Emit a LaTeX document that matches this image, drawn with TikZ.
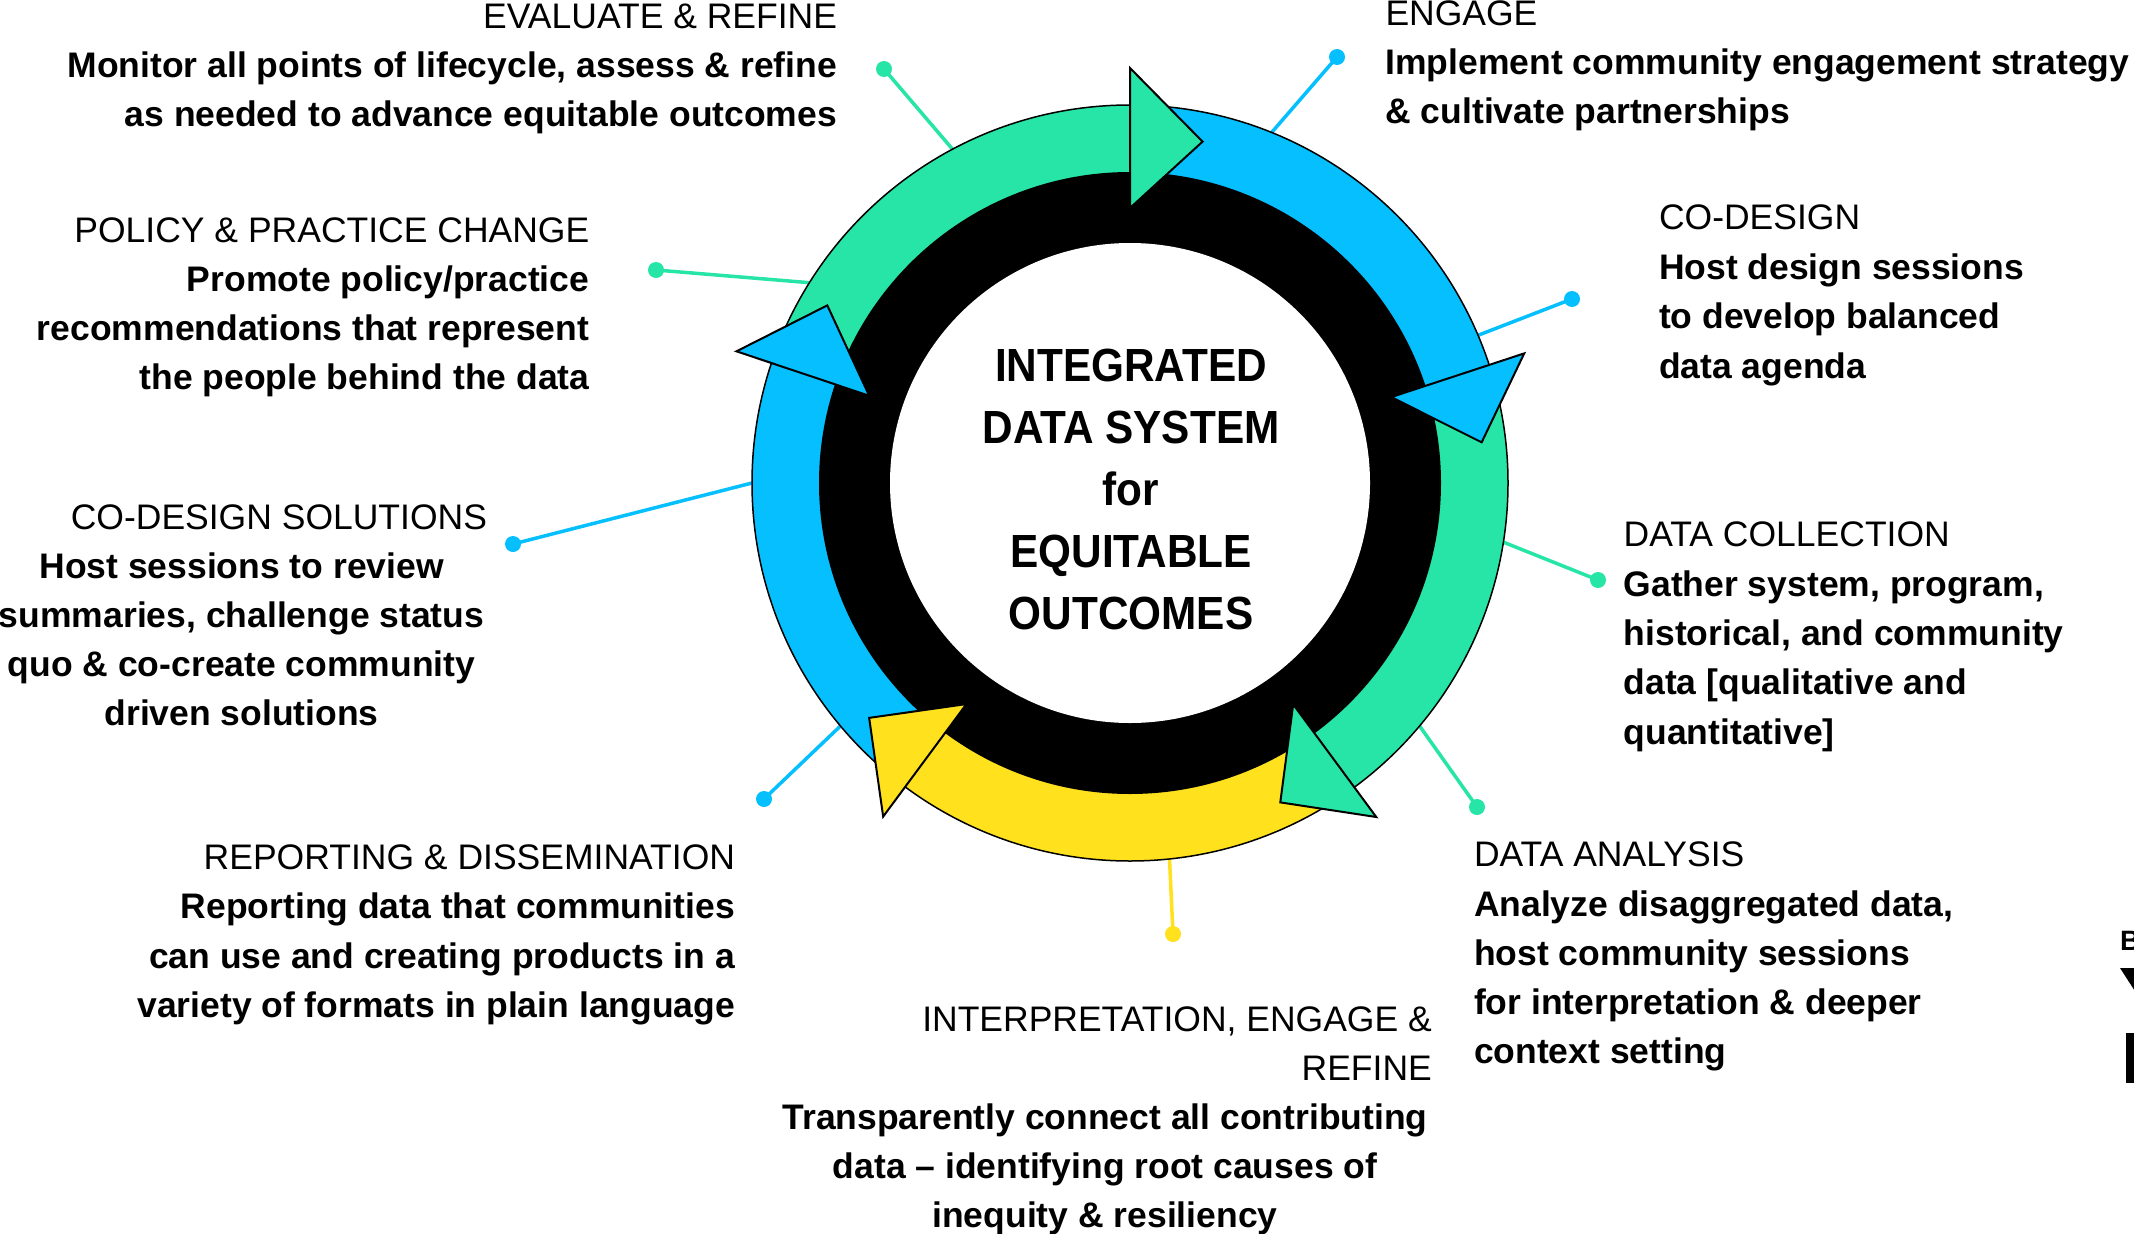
\documentclass[tikz,border=0pt]{standalone}
\usepackage{fontspec}
\setmainfont{Liberation Sans}
\newfontfamily\ctrfont[FakeStretch=0.91]{Liberation Sans}
\usetikzlibrary{calc}
\definecolor{cgreen}{HTML}{26E5A6}
\definecolor{cblue}{HTML}{05BFFF}
\definecolor{cyellow}{HTML}{FFE11E}
\newcommand\ringband[3]{\fill[#1] ($(C)+(#2:378)$) arc[start angle=#2, end angle=#3, radius=378] -- ($(C)+(#3:300)$) arc[start angle=#3, end angle=#2, radius=300] -- cycle;}
\newcommand\ringhead[4]{\filldraw[fill=#1, draw=black, line width=2, line join=miter] ($(C)+(#2:275)$) -- ($(C)+(#2:415)$) -- ($(C)+(#3:#4)$) -- cycle;}
\begin{document}
\begin{tikzpicture}[x=1pt,y=1pt,
  ttl/.style={font=\fontsize{35.5}{49}\selectfont, inner sep=0, outer sep=0},
  bdy/.style={font=\fontsize{35.5}{49}\selectfont\bfseries, inner sep=0, outer sep=0},
  ctr/.style={font=\fontsize{46.5}{62}\selectfont\ctrfont\bfseries, inner sep=0, outer sep=0, anchor=base},
  dot/.style={circle, minimum size=16, inner sep=0, outer sep=0},
  conn/.style={line width=3.5}]
\useasboundingbox (0,0) rectangle (2134,-1234);
\fill[white] (0,0) rectangle (2134,-1234);
\coordinate (C) at (1130,-483);
\node[circle, minimum size=756, inner sep=0, outer sep=0] (ring) at (C) {};

% connectors with dots
\node[dot, fill=cgreen] (d1) at (884,-69) {};
\draw[conn, cgreen] (d1.center) -- (ring.118.6);
\node[dot, fill=cblue] (d2) at (1337,-57) {};
\draw[conn, cblue] (d2.center) -- (ring.68.3);
\node[dot, fill=cblue] (d3) at (1572,-299) {};
\draw[conn, cblue] (d3.center) -- (ring.23.5);
\node[dot, fill=cgreen] (d4) at (1598,-580) {};
\draw[conn, cgreen] (d4.center) -- (ring.-9.7);
\node[dot, fill=cgreen] (d5) at (1477,-807) {};
\draw[conn, cgreen] (d5.center) -- (ring.-40.8);
\node[dot, fill=cyellow] (d6) at (1173,-934) {};
\draw[conn, cyellow] (d6.center) -- (ring.-84.5);
\node[dot, fill=cblue] (d7) at (764,-799) {};
\draw[conn, cblue] (d7.center) -- (ring.220.9);
\node[dot, fill=cblue] (d8) at (513,-544) {};
\draw[conn, cblue] (d8.center) -- (ring.180.2);
\node[dot, fill=cgreen] (d9) at (656,-270) {};
\draw[conn, cgreen] (d9.center) -- (ring.148.9);

% ring bands
\ringband{cblue}{90}{18.2}
\ringband{cgreen}{18.2}{-53.6}
\ringband{cyellow}{-53.6}{-126.5}
\ringband{cblue}{233.5}{161.5}
\ringband{cgreen}{161.5}{90}
\draw[line width=1.5] (C) circle[radius=378];
\fill[black] (C) circle[radius=311];
\fill[white] (C) circle[radius=240];

% arrow heads
\ringhead{cgreen}{90}{78}{349}
\ringhead{cblue}{18.2}{6.6}{354}
\ringhead{cgreen}{-53.6}{-64.8}{353}
\ringhead{cyellow}{-126.5}{-138}{351}
\ringhead{cblue}{161.5}{149.6}{351}

% centre text
\node[ctr] (c1) at (1131,-381.5) {INTEGRATED};
\node[ctr] (c2) at (1131,-443.6) {DATA SYSTEM};
\node[ctr] (c3) at (1131,-505.7) {for};
\node[ctr] (c4) at (1131,-567.8) {EQUITABLE};
\node[ctr] (c5) at (1131,-629.9) {OUTCOMES};

% EVALUATE & REFINE
\node[ttl, anchor=base east] (ev0) at (837,-28.3) {EVALUATE \& REFINE};
\node[bdy, anchor=base east] (ev1) at (837,-77.3) {Monitor all points of lifecycle, assess \& refine};
\node[bdy, anchor=base east] (ev2) at (837,-126.3) {as needed to advance equitable outcomes};

% POLICY & PRACTICE CHANGE
\node[ttl, anchor=base east] (po0) at (589.3,-242) {POLICY \& PRACTICE CHANGE};
\node[bdy, anchor=base east] (po1) at (589.3,-291) {Promote policy/practice};
\node[bdy, anchor=base east] (po2) at (589.3,-340) {recommendations that represent};
\node[bdy, anchor=base east] (po3) at (589.3,-389) {the people behind the data};

% CO-DESIGN SOLUTIONS
\node[ttl, anchor=base east] (cs0) at (487,-529) {CO-DESIGN SOLUTIONS};
\node[bdy, anchor=base] (cs1) at (241.6,-578) {Host sessions to review};
\node[bdy, anchor=base] (cs2) at (241.6,-627) {summaries, challenge status};
\node[bdy, anchor=base] (cs3) at (241.6,-676) {quo \& co-create community};
\node[bdy, anchor=base] (cs4) at (241.6,-725) {driven solutions};

% REPORTING & DISSEMINATION
\node[ttl, anchor=base east] (re0) at (735,-869.4) {REPORTING \& DISSEMINATION};
\node[bdy, anchor=base east] (re1) at (735,-918.9) {Reporting data that communities};
\node[bdy, anchor=base east] (re2) at (735,-968.4) {can use and creating products in a};
\node[bdy, anchor=base east] (re3) at (735,-1017.9) {variety of formats in plain language};

% INTERPRETATION
\node[ttl, anchor=base east] (in0) at (1431.8,-1031.4) {INTERPRETATION, ENGAGE \&};
\node[ttl, anchor=base east] (in1) at (1431.8,-1080.4) {REFINE};
\node[bdy, anchor=base] (in2) at (1105,-1129.4) {Transparently connect all contributing};
\node[bdy, anchor=base] (in3) at (1105,-1178.4) {data – identifying root causes of};
\node[bdy, anchor=base] (in4) at (1105,-1227.4) {inequity \& resiliency};

% ENGAGE
\node[ttl, anchor=base west] (en0) at (1385.5,-25.6) {ENGAGE};
\node[bdy, anchor=base west] (en1) at (1385.5,-74.6) {Implement community engagement strategy};
\node[bdy, anchor=base west] (en2) at (1385.5,-123.6) {\& cultivate partnerships};

% CO-DESIGN
\node[ttl, anchor=base west] (cd0) at (1659,-229.8) {CO-DESIGN};
\node[bdy, anchor=base west] (cd1) at (1659,-279.2) {Host design sessions};
\node[bdy, anchor=base west] (cd2) at (1659,-328.6) {to develop balanced};
\node[bdy, anchor=base west] (cd3) at (1659,-378) {data agenda};

% DATA COLLECTION
\node[ttl, anchor=base west] (dc0) at (1623.7,-546.9) {DATA COLLECTION};
\node[bdy, anchor=base west] (dc1) at (1623.7,-596.2) {Gather system, program,};
\node[bdy, anchor=base west] (dc2) at (1623.7,-645.5) {historical, and community};
\node[bdy, anchor=base west] (dc3) at (1623.7,-694.8) {data [qualitative and};
\node[bdy, anchor=base west] (dc4) at (1623.7,-744.1) {quantitative]};

% DATA ANALYSIS
\node[ttl, anchor=base west] (da0) at (1474,-866.7) {DATA ANALYSIS};
\node[bdy, anchor=base west] (da1) at (1474,-916) {Analyze disaggregated data,};
\node[bdy, anchor=base west] (da2) at (1474,-965.3) {host community sessions};
\node[bdy, anchor=base west] (da3) at (1474,-1014.6) {for interpretation \& deeper};
\node[bdy, anchor=base west] (da4) at (1474,-1063.9) {context setting};

% fragments at the right edge
\node[anchor=base west, font=\fontsize{28}{30}\selectfont\bfseries, inner sep=0] (bx) at (2120,-950) {B};
\fill[black] (2120,-968) -- (2160,-968) -- (2140,-999) -- cycle;
\fill[black] (2126,-1033) rectangle (2146,-1083);
\end{tikzpicture}
\end{document}
